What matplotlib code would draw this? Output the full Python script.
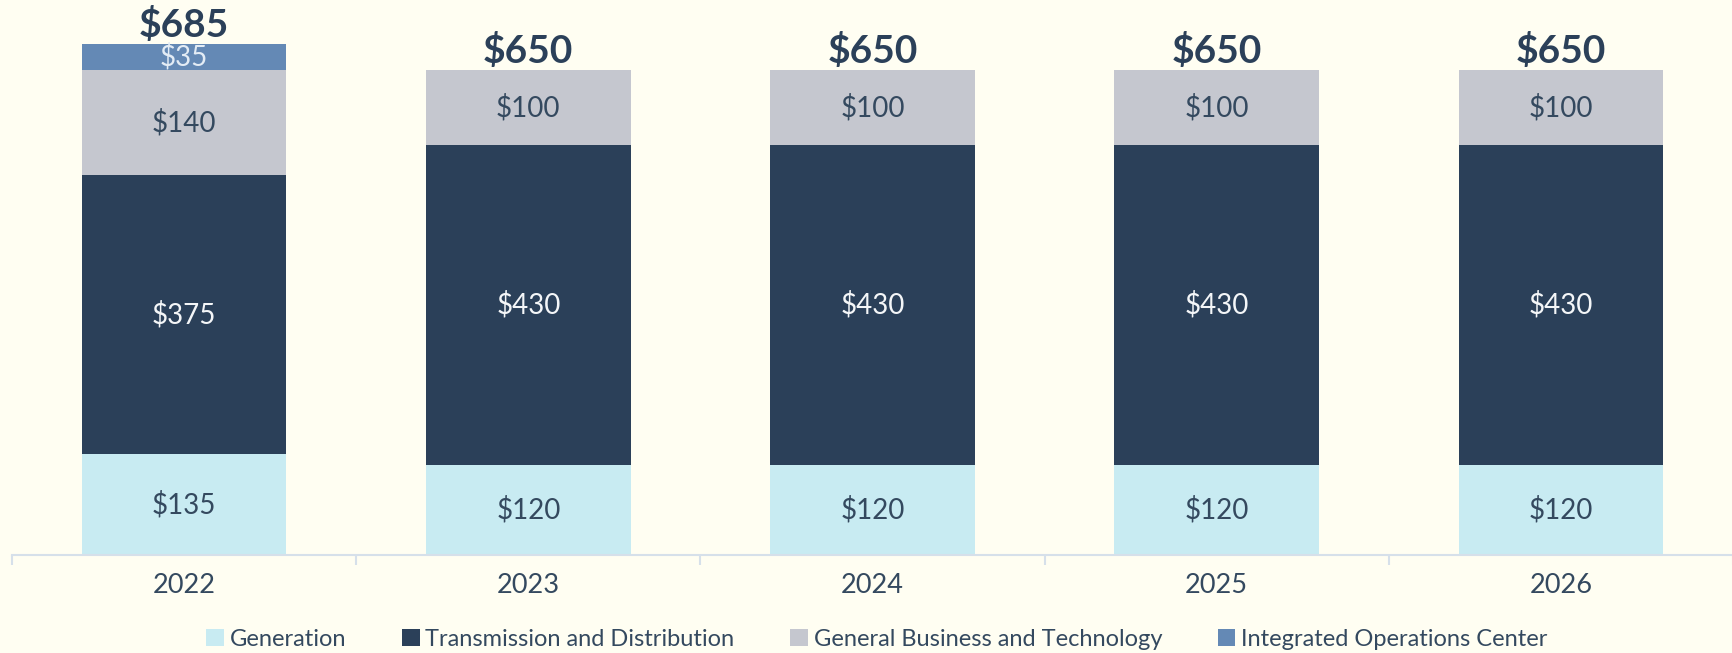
import numpy as np
import matplotlib
matplotlib.use("Agg")
import matplotlib.pyplot as plt
from matplotlib.patches import Patch

# data ($ millions)
years = ["2022", "2023", "2024", "2025", "2026"]
generation = [135, 120, 120, 120, 120]
trans_dist = [375, 430, 430, 430, 430]
gen_business = [140, 100, 100, 100, 100]
ops_center = [35, 0, 0, 0, 0]
totals = [685, 650, 650, 650, 650]

series_names = ["Generation", "Transmission and Distribution",
                "General Business and Technology", "Integrated Operations Center"]
colors = ["#C8EBF2", "#2B4059", "#C5C7CF", "#6489B5"]
label_colors = ["#34495F", "#F4F6F8", "#34495F", "#E3ECF5"]

bg = "#FFFEF2"
navy = "#2B4059"

plt.rcParams["font.family"] = ["Lato", "DejaVu Sans"]

fig = plt.figure(figsize=(17.33, 6.53), dpi=100, facecolor=bg)
ax = fig.add_axes([12 / 1733, 98 / 653, 1 - 12 / 1733, 1 - 98 / 653])
ax.set_facecolor(bg)

x = np.arange(len(years))
bar_w = 0.594
bottom = np.zeros(len(years))
for vals, col, lcol in zip([generation, trans_dist, gen_business, ops_center], colors, label_colors):
    vals = np.array(vals, dtype=float)
    ax.bar(x, vals, bar_w, bottom=bottom, color=col, edgecolor="none")
    for xi, v, b in zip(x, vals, bottom):
        if v > 0:
            ax.text(xi, b + v / 2, f"${int(v)}", ha="center", va="center",
                    fontsize=20, color=lcol)
    bottom += vals

for xi, t in zip(x, totals):
    ax.annotate(f"${t}", (xi, t), xytext=(0, 1), textcoords="offset points",
                ha="center", va="bottom", fontsize=28, fontweight="bold", color=navy)

ax.set_xlim(-0.5, len(years) - 0.5)
ax.set_ylim(0, 744)

for s in ["top", "right", "left"]:
    ax.spines[s].set_visible(False)
ax.spines["bottom"].set_color("#D6E0EA")
ax.spines["bottom"].set_linewidth(1.5)
ax.set_yticks([])

ax.set_xticks(x)
ax.set_xticklabels(years, fontsize=19.5, color="#34495F")
ax.tick_params(axis="x", which="major", length=0, pad=13)
ax.set_xticks(np.arange(-0.5, len(years)), minor=True)
ax.tick_params(axis="x", which="minor", length=7, width=1.5, color="#D6E0EA")

handles = [Patch(facecolor=c, edgecolor="none") for c in colors]
fig.legend(handles, series_names, loc="center", bbox_to_anchor=(0.506, 0.021),
           ncol=4, frameon=False, fontsize=17, labelcolor="#34495F",
           handlelength=0.75, handleheight=0.75, handletextpad=0.25, columnspacing=2.35)

fig.savefig("out.png", dpi=100, facecolor=bg)
